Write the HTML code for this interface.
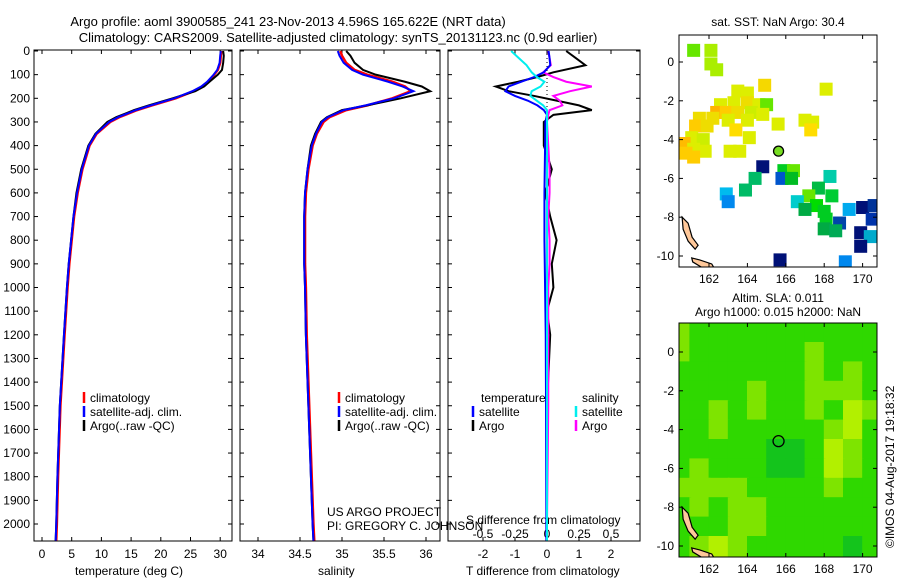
<!DOCTYPE html>
<html><head><meta charset="utf-8"><style>
body{margin:0;background:#fff;}
svg{display:block;font-family:"Liberation Sans",sans-serif;}
</style></head><body>
<svg id="fig" width="900" height="580" xmlns="http://www.w3.org/2000/svg">
<text x="288" y="26" font-size="13" text-anchor="middle">Argo profile: aoml 3900585_241 23-Nov-2013 4.596S 165.622E (NRT data)</text>
<text x="338" y="42" font-size="13" text-anchor="middle">Climatology: CARS2009. Satellite-adjusted climatology: synTS_20131123.nc (0.9d earlier)</text>
<text x="778" y="26" font-size="12" text-anchor="middle">sat. SST: NaN Argo: 30.4</text>
<text x="778" y="302" font-size="12" text-anchor="middle">Altim. SLA: 0.011</text>
<text x="778" y="316" font-size="12" text-anchor="middle">Argo h1000: 0.015 h2000: NaN</text>
<text transform="translate(894,548) rotate(-90)" font-size="12">©IMOS 04-Aug-2017 19:18:32</text>
<g id="g"></g>
</svg>
<script>
// ---- data ----
const depthTicks=[0,100,200,300,400,500,600,700,800,900,1000,1100,1200,1300,1400,1500,1600,1700,1800,1900,2000];
const tempTicks=[0,5,10,15,20,25,30];
const salTicks=[34,34.5,35,35.5,36];
const salTickLabels=["34","34.5","35","35.5","36"];
const tdTicks=[-2,-1,0,1,2];
const tdLabels=["-2","-1","0","1","2"];
const sdTicks=[-0.5,-0.25,0,0.25,0.5];
const sdLabels=["-0.5","-0.25","0","0.25","0.5"];
const profDepth=[0,20,50,80,100,130,150,170,200,230,250,280,300,350,400,500,600,700,800,900,1000,1200,1500,1800,2000,2070];
const tempClim=[30.2,30.1,30.0,29.6,29.0,28.0,27.0,25.5,22.5,18.5,16,13,11.5,9.2,8.0,6.8,6.0,5.4,5.0,4.6,4.3,3.8,3.1,2.7,2.5,2.4];
const tempSat=[30.1,30.0,29.9,29.5,28.9,27.8,26.8,25.3,22.3,18.3,15.8,12.8,11.3,9.1,7.9,6.7,5.9,5.3,4.9,4.5,4.2,3.7,3.0,2.6,2.4,2.3];
const tempArgo=[30.5,30.6,30.5,30.3,29.6,28.2,27.3,25.8,22.0,18.0,15.5,12.5,11.0,9.0,7.8,6.6,5.8,5.3,4.9,4.5,4.2,3.7,3.0,2.6,2.4,2.3];
const salClim=[34.98,35.0,35.05,35.15,35.3,35.6,35.75,35.82,35.6,35.3,35.05,34.85,34.78,34.7,34.65,34.6,34.57,34.56,34.56,34.56,34.57,34.58,34.61,34.64,34.66,34.67];
const salSat=[34.95,34.97,35.02,35.12,35.25,35.55,35.72,35.85,35.62,35.28,35.02,34.83,34.76,34.69,34.64,34.59,34.56,34.55,34.55,34.55,34.56,34.57,34.6,34.63,34.65,34.66];
const salArgo=[35.05,35.1,35.15,35.25,35.4,35.75,35.95,36.05,35.7,35.3,35.0,34.82,34.75,34.68,34.63,34.59,34.56,34.55,34.55,34.55,34.56,34.57,34.6,34.63,34.65,34.66];
const diffDepth=[0,30,60,90,110,130,150,170,190,210,230,250,270,300,400,500,600,700,800,900,1000,1100,1200,1500,2000,2070];
const tdSat=[0.05,0.08,0.1,-0.1,-0.4,-0.8,-1.2,-1.3,-1.0,-0.6,-0.3,-0.1,0,-0.05,-0.06,-0.07,-0.08,-0.08,-0.08,-0.07,-0.06,-0.05,-0.04,-0.03,-0.02,-0.02];
const tdArgo=[0.6,0.9,1.2,0.2,-0.3,-0.9,-1.6,-1.2,-0.4,0.3,1.0,1.4,0.2,-0.1,-0.1,0.15,-0.05,0.1,0.3,0.15,0.2,0.0,0.1,0.0,0.0,0.0];
const sdSat=[-0.28,-0.22,-0.16,-0.12,-0.08,-0.02,-0.05,-0.12,-0.13,-0.08,-0.03,0.0,0.0,0.0,0.0,0.0,0.0,0.0,0.0,0.0,0.0,0.0,0.0,0.0,0.0,0.0];
const sdArgo=[0.01,0.02,0.03,-0.03,0.05,0.15,0.35,0.18,0.05,0.1,0.12,0.02,0.01,0.0,0.01,0.02,0.02,0.01,0.02,0.02,0.01,0.01,0.01,0.01,0.0,0.0];
const lonTicks=[162,164,166,168,170];
const latTicks=[0,-2,-4,-6,-8,-10];
const sstCells=[[161.2,0.6,"#66e600"],[162.1,0.6,"#aaee00"],[162.1,-0.1,"#aaee00"],[162.4,-0.4,"#aaee00"],[164.9,-1.2,"#f5d800"],[168.1,-1.4,"#ddee00"],
[163.5,-1.5,"#ddee00"],[164.0,-1.6,"#ddee00"],[163.3,-2.1,"#ddee00"],[164.0,-2.1,"#eedd00"],[164.6,-2.2,"#ddee00"],[165.0,-2.2,"#66e600"],[162.6,-2.2,"#ddee00"],
[162.4,-2.6,"#ffb300"],[162.9,-2.6,"#ffcc00"],[163.5,-2.6,"#eedd00"],[164.2,-2.6,"#ccee00"],[164.8,-2.7,"#ddee00"],[161.5,-2.9,"#eedd00"],[162.2,-2.9,"#eedd00"],
[163.0,-3.0,"#ddee00"],[164.0,-3.0,"#ddee00"],[165.6,-3.2,"#ddee00"],[167.0,-3.0,"#ddee00"],[167.4,-3.1,"#ddee00"],[161.3,-3.3,"#ffcc00"],[161.9,-3.3,"#eedd00"],
[163.4,-3.5,"#ffdd00"],[167.3,-3.5,"#ffdd00"],[161.1,-3.9,"#ddee00"],[161.7,-4.0,"#ccee00"],[164.1,-3.9,"#ddee00"],[160.7,-4.2,"#ffbb00"],[161.2,-4.5,"#ddee00"],
[161.8,-4.6,"#ddee00"],[163.1,-4.6,"#ddee00"],[163.6,-4.6,"#ddee00"],[160.8,-4.7,"#ffcc00"],[161.2,-4.9,"#ffcc00"],[164.8,-5.4,"#001177"],[165.9,-5.6,"#00cc22"],
[166.4,-5.6,"#66e600"],[165.8,-6.0,"#0055cc"],[166.3,-6.0,"#00bb22"],[164.4,-6.0,"#00bb66"],[168.3,-5.9,"#00ccaa"],[163.9,-6.6,"#00bb66"],[167.7,-6.5,"#00bb44"],
[167.2,-6.9,"#66e600"],[168.4,-6.9,"#00cc33"],[162.9,-6.8,"#00bbee"],[163.0,-7.2,"#0088ee"],[166.6,-7.2,"#00cccc"],[167.6,-7.4,"#00dd00"],[168.0,-7.7,"#00cc22"],
[167.0,-7.6,"#00aa44"],[169.3,-7.6,"#00aaee"],[170.0,-7.5,"#001177"],[170.6,-7.4,"#003399"],[168.1,-8.1,"#00cc22"],[168.8,-8.3,"#0044aa"],[170.5,-8.1,"#0033aa"],
[168.0,-8.6,"#00aa44"],[168.6,-8.7,"#00aa55"],[169.9,-8.8,"#001177"],[170.4,-9.0,"#00aacc"],[169.9,-9.5,"#001177"],[165.7,-10.2,"#001177"],[169.1,-10.3,"#0088ee"]];
const slaLats=[1,0,-1,-2,-3,-4,-5,-6,-7,-8,-9,-10];
const slaLons=[160.5,161.5,162.5,163.5,164.5,165.5,166.5,167.5,168.5,169.5,170.5];
const slaGrid=[[2,1,1,1,1,1,1,1,1,1,1],[2,1,1,1,1,1,1,2,1,1,1],[1,1,1,1,1,1,1,2,1,2,1],[1,1,1,1,2,1,1,2,2,2,1],[1,1,2,1,2,1,1,2,1,3,2],
[1,1,2,1,1,1,1,1,2,3,1],[1,1,1,1,1,0,0,1,3,2,1],[1,2,1,1,1,0,0,1,3,2,1],[2,2,2,2,1,1,1,1,2,1,1],[1,2,1,2,2,1,1,1,1,1,1],[1,1,1,2,2,1,1,1,1,1,1],[1,2,3,2,1,1,1,1,1,0,1]];
const slaColors=["#14c41c","#2fd800","#7ee400","#b2f000"];
// ---- drawing ----
const NS="http://www.w3.org/2000/svg";const G=document.getElementById('g');
function el(t,a,p){const e=document.createElementNS(NS,t);for(const k in a)e.setAttribute(k,a[k]);(p||G).appendChild(e);return e;}
const yD=d=>51+d*0.2365;
const pTop=50,pBot=541;
function frame(x0,x1,name){const r=el('rect',{x:x0,y:pTop,width:x1-x0,height:pBot-pTop,fill:'none',stroke:'#000'});

}
function yAxis(x0,x1,labels){depthTicks.forEach(d=>{const y=yD(d);el('line',{x1:x0,x2:x0+4,y1:y,y2:y,stroke:'#000'});el('line',{x1:x1-4,x2:x1,y1:y,y2:y,stroke:'#000'});
if(labels){const t=el('text',{x:x0-4,y:y+4,'font-size':12,'text-anchor':'end'});t.textContent=d;

}});}
function xTicks(vals,labs,fx,yb){vals.forEach((v,i)=>{const x=fx(v);el('line',{x1:x,x2:x,y1:pBot,y2:pBot-4,stroke:'#000'});el('line',{x1:x,x2:x,y1:pTop,y2:pTop+4,stroke:'#000'});
const t=el('text',{x:x,y:yb,'font-size':12,'text-anchor':'middle'});t.textContent=labs[i];

});}
function line(xs,ds,fx,col,w,name){const p=el('polyline',{points:xs.map((v,i)=>fx(v)+','+yD(ds[i])).join(' '),fill:'none',stroke:col,'stroke-width':w});

}
function txt(x,y,s,name,sz){const t=el('text',{x:x,y:y,'font-size':sz||12});t.textContent=s;

return t;}
function legend(x,y,items,name){items.forEach((it,i)=>{const yy=y+i*14;el('line',{x1:x,x2:x,y1:yy-10,y2:yy+1,stroke:it[1],'stroke-width':2.5});txt(x+6,yy,it[0],name);});}
// panel 1 temperature
const fT=v=>42+v*5.94;
frame(34,232,'temperature-panel');yAxis(34,232,true);
xTicks(tempTicks,tempTicks.map(String),fT,558);
txt(75,575,'temperature (deg C)','temperature-axis-title');
line(tempClim,profDepth,fT,'#f00',2.5,'temp-climatology-line');
line(tempArgo,profDepth,fT,'#000',2,'temp-argo-line');
line(tempSat,profDepth,fT,'#00f',2,'temp-satellite-line');
legend(84,402,[['climatology','#f00'],['satellite-adj. clim.','#00f'],['Argo(..raw -QC)','#000']],'temp-legend-entry');
// panel 2 salinity
const fS=v=>258+(v-34)*84;
frame(240,440,'salinity-panel');yAxis(240,440,false);
xTicks(salTicks,salTickLabels,fS,558);
txt(318,575,'salinity','salinity-axis-title');
line(salClim,profDepth,fS,'#f00',2.5,'sal-climatology-line');
line(salArgo,profDepth,fS,'#000',2,'sal-argo-line');
line(salSat,profDepth,fS,'#00f',2,'sal-satellite-line');
legend(339,402,[['climatology','#f00'],['satellite-adj. clim.','#00f'],['Argo(..raw -QC)','#000']],'sal-legend-entry');
txt(327,516,'US ARGO PROJECT','project-label');
txt(327,530,'PI: GREGORY C. JOHNSON','pi-label');
// panel 3 differences
const fTd=v=>547+v*32, fSd=v=>547+v*128;
frame(448,640,'difference-panel');yAxis(448,640,false);
xTicks(tdTicks,tdLabels,fTd,558);
sdTicks.forEach((v,i)=>{const t=el('text',{x:fSd(v),y:538,'font-size':12,'text-anchor':'middle'});t.textContent=sdLabels[i];

});
el('line',{x1:547,x2:547,y1:pTop,y2:pBot,stroke:'#000','stroke-dasharray':'1,3'});
txt(466,524,'S difference from climatology','s-diff-axis-title');
txt(466,575,'T difference from climatology','t-diff-axis-title');
line(tdArgo,diffDepth,fTd,'#000',2,'t-diff-argo-line');
line(sdArgo,diffDepth,fSd,'#f0f',2,'s-diff-argo-line');
line(tdSat,diffDepth,fTd,'#00f',2,'t-diff-satellite-line');
line(sdSat,diffDepth,fSd,'#0ee',2,'s-diff-satellite-line');
txt(481,402,'temperature','diff-legend-temperature');txt(582,402,'salinity','diff-legend-salinity');
legend(473,416,[['satellite','#00f'],['Argo','#000']],'diff-legend-entry');
legend(576,416,[['satellite','#0ee'],['Argo','#f0f']],'diff-legend-entry');
// maps
function map(y0,y1,lat0y,name,drawContent){
const fx=lon=>709+(lon-162)*19.2, fy=lat=>lat0y+(-lat)*19.4;
const grp=el('g',{});

const cp='clip'+y0;const c=el('clipPath',{id:cp},grp);el('rect',{x:679,y:y0,width:198,height:y1-y0},c);
const inner=el('g',{'clip-path':'url(#'+cp+')'},grp);
drawContent(inner,fx,fy);
el('path',{d:`M${fx(160.6)},${fy(-8)} l6,6 l4,14 l6,8 l-3,4 l-7,-8 l-5,-12 z`,fill:'#ffc89a',stroke:'#000','stroke-width':1.2},inner);
el('path',{d:`M${fx(161.1)},${fy(-10.1)} l8,2 l12,4 l3,5 l-12,-1 l-10,-6 z`,fill:'#ffc89a',stroke:'#000','stroke-width':1.2},inner);
el('rect',{x:679,y:y0,width:198,height:y1-y0,fill:'none',stroke:'#000'},grp);
lonTicks.forEach(l=>{const x=fx(l);el('line',{x1:x,x2:x,y1:y0,y2:y0+4,stroke:'#000'},grp);el('line',{x1:x,x2:x,y1:y1,y2:y1-4,stroke:'#000'},grp);
const t=el('text',{x:x,y:y1+16,'font-size':12,'text-anchor':'middle'},grp);t.textContent=l;

});
latTicks.forEach(l=>{const y=fy(l);el('line',{x1:679,x2:683,y1:y,y2:y,stroke:'#000'},grp);el('line',{x1:877,x2:873,y1:y,y2:y,stroke:'#000'},grp);
const t=el('text',{x:674,y:y+4,'font-size':12,'text-anchor':'end'},grp);t.textContent=l;

});
return {fx,fy,grp};}
const m1=map(35,267,62,'sst-map',(g,fx,fy)=>{sstCells.forEach(c=>{const r=el('rect',{x:fx(c[0])-6.5,y:fy(c[1])-6.5,width:13,height:13,fill:c[2]},g);

});});
const cc=el('circle',{cx:m1.fx(165.622),cy:m1.fy(-4.596),r:5,fill:'#77dd22',stroke:'#000','stroke-width':1.3},m1.grp);


const m2=map(323,557,352,'sla-map',(g,fx,fy)=>{slaGrid.forEach((row,i)=>row.forEach((v,j)=>{const r=el('rect',{x:fx(slaLons[j])-10,y:fy(slaLats[i])-10,width:21,height:21,fill:slaColors[v]},g);

}));});
const c2=el('circle',{cx:m2.fx(165.622),cy:m2.fy(-4.596),r:5.5,fill:'none',stroke:'#000','stroke-width':1.3},m2.grp);


</script>
</body></html>
